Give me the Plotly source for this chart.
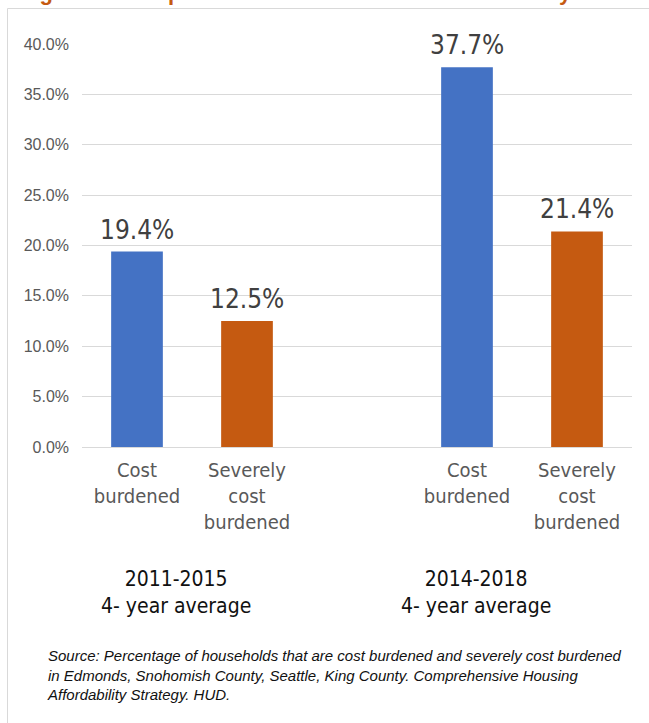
import plotly.graph_objects as go

# data (percent of households)
categories = ["Cost<br>burdened", "Severely<br>cost<br>burdened", "Cost<br>burdened", "Severely<br>cost<br>burdened"]
positions = [0, 1, 3, 4]  # slot 2 is left empty as a gap between periods
values = [19.4, 12.5, 37.7, 21.4]
bar_colors = ["#4472C4", "#C55A11", "#4472C4", "#C55A11"]
periods = ["2011-2015<br>4- year average", "2014-2018<br>4- year average"]
y_ticks = [0, 5, 10, 15, 20, 25, 30, 35, 40]

W, H = 649, 723
L, R, T, B = 82, 632, 44, 447  # plot area in pixels

NARROW = "DejaVu Sans Condensed, Roboto, sans-serif"


def px_x(p):
    return (p - L) / (R - L)


def px_y(p):
    return (B - p) / (B - T)


fig = go.Figure()

fig.add_trace(
    go.Bar(
        x=positions,
        y=[v / 100 for v in values],
        width=0.47,
        marker={"color": bar_colors, "line": {"width": 0}},
        hoverinfo="skip",
    )
)

# value labels sitting above each bar
for x, v in zip(positions, values):
    fig.add_annotation(
        x=x, y=v / 100, text=f"{v:.1f}%", showarrow=False,
        xanchor="center", yanchor="middle", yshift=22,
        font={"family": NARROW, "size": 26, "color": "#404040"},
    )

# period labels under each pair of bars
for x, label in zip([0.355, 3.08], periods):
    fig.add_annotation(
        x=x, xref="x", y=px_y(592), yref="paper",
        text=label, showarrow=False, xanchor="center", yanchor="middle",
        font={"family": NARROW, "size": 21, "color": "#111111"},
    )

# source note
fig.add_annotation(
    x=px_x(45), xref="paper", y=px_y(675), yref="paper",
    text=("<i>Source: Percentage of households that are cost burdened and severely cost burdened<br>"
          "in Edmonds, Snohomish County, Seattle, King County. Comprehensive Housing<br>"
          "Affordability Strategy. HUD.</i>"),
    showarrow=False, xanchor="left", yanchor="middle", align="left",
    font={"family": "Liberation Sans, sans-serif", "size": 15, "color": "#111111"},
)

# title mostly cut off at the top edge, as in the source image
fig.add_annotation(
    x=px_x(18), xref="paper", y=px_y(7), yref="paper",
    text="<b>Figure 6: Comparison of cost burdened and severely cost burdened renters</b>",
    showarrow=False, xanchor="left", yanchor="bottom",
    font={"family": "Liberation Sans, sans-serif", "size": 22, "color": "#C55A11"},
)

# light frame around the figure
fig.add_shape(
    type="rect", xref="paper", yref="paper",
    x0=px_x(7.5), x1=px_x(W + 20), y0=px_y(8.5), y1=px_y(H + 20),
    line={"color": "#D9D9D9", "width": 1}, fillcolor="rgba(0,0,0,0)", layer="below",
)

fig.update_layout(
    width=W,
    height=H,
    margin={"l": L, "r": W - R, "t": T, "b": H - B},
    paper_bgcolor="white",
    plot_bgcolor="white",
    showlegend=False,
    font={"family": "Liberation Sans, sans-serif", "color": "#595959"},
    xaxis={
        "range": [-0.5, 4.5],
        "tickvals": positions,
        "ticktext": categories,
        "tickfont": {"family": NARROW, "size": 20, "color": "#595959"},
        "showgrid": False,
        "showline": True,
        "linecolor": "#D9D9D9",
        "ticks": "",
        "zeroline": False,
        "ticklabelstandoff": 5,
        "fixedrange": True,
    },
    yaxis={
        "range": [0, 0.4],
        "tickvals": [t / 100 for t in y_ticks],
        "tickformat": ".1%",
        "tickfont": {"family": "Liberation Sans, sans-serif", "size": 16, "color": "#595959"},
        "showgrid": True,
        "gridcolor": "#D9D9D9",
        "zeroline": False,
        "ticklabelstandoff": 12,
        "fixedrange": True,
    },
)

# page body margin would shift the figure by 8px; drop it
fig.write_html(
    "out.html",
    config={"displayModeBar": False},
    post_script="document.body.style.margin = '0';",
)
